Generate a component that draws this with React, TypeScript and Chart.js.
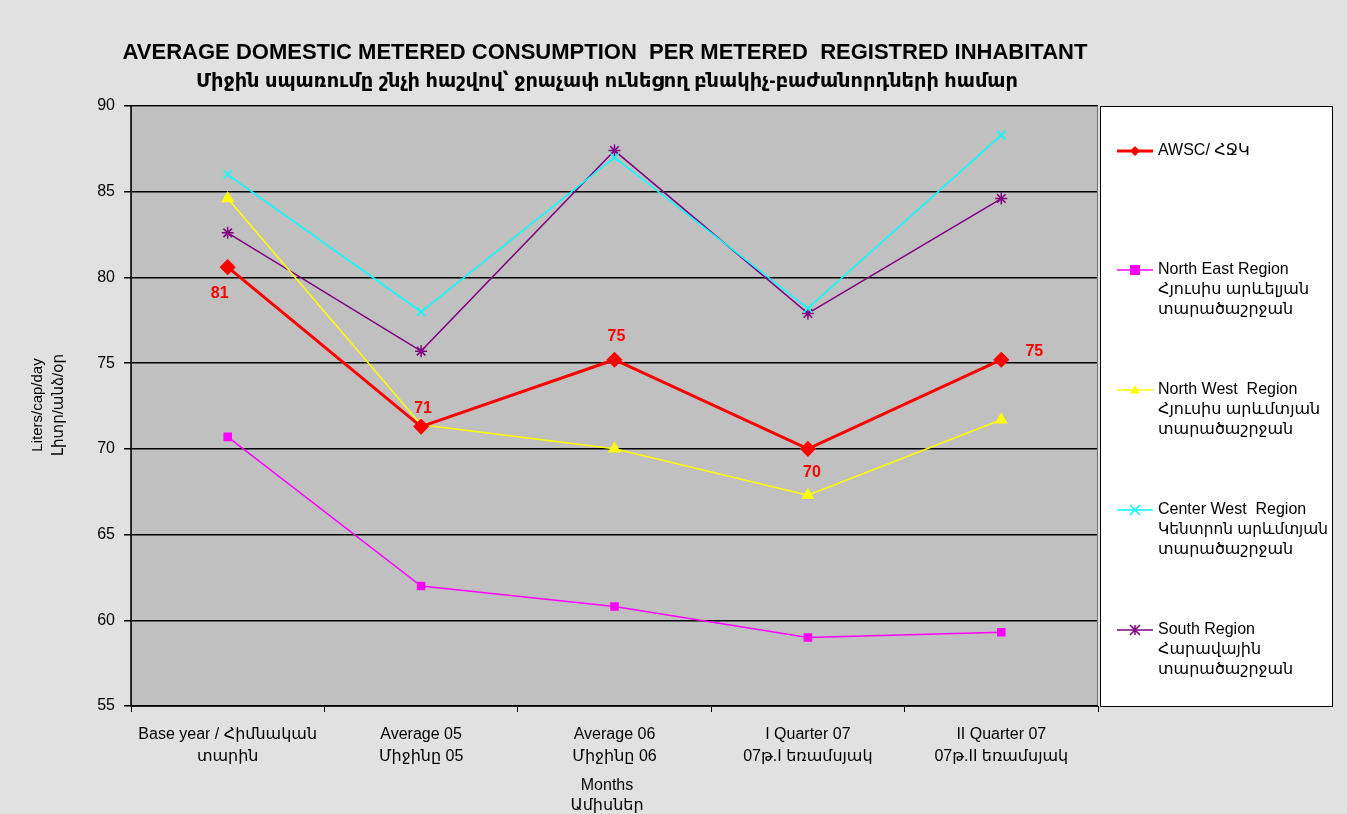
import React, { useEffect, useRef } from "react";
import { Chart, registerables } from "chart.js";

Chart.register(...registerables);

const categories: string[][] = [
  ["Base year / Հիմնական", "տարին"],
  ["Average 05", "Միջինը 05"],
  ["Average 06", "Միջինը 06"],
  ["I Quarter 07", "07թ.I եռամսյակ"],
  ["II Quarter 07", "07թ.II եռամսյակ"],
];
const awsc = [80.6, 71.3, 75.2, 70.0, 75.2];
const awscLabels = ["81", "71", "75", "70", "75"];
const northEast = [70.7, 62.0, 60.8, 59.0, 59.3];
const northWest = [84.6, 71.4, 70.0, 67.3, 71.7];
const centerWest = [86.0, 78.0, 87.0, 78.2, 88.3];
const south = [82.6, 75.7, 87.4, 77.9, 84.6];

const seriesNames: string[][] = [
  ["AWSC/ ՀՋԿ"],
  ["North East Region", "Հյուսիս արևելյան", "տարածաշրջան"],
  ["North West  Region", "Հյուսիս արևմտյան", "տարածաշրջան"],
  ["Center West  Region", "Կենտրոն արևմտյան", "տարածաշրջան"],
  ["South Region", "Հարավային", "տարածաշրջան"],
];
const titleLines = [
  "AVERAGE DOMESTIC METERED CONSUMPTION  PER METERED  REGISTRED INHABITANT",
  "Միջին սպառումը շնչի հաշվով՝ ջրաչափ ունեցող բնակիչ-բաժանորդների համար",
];
const yTitle = ["Liters/cap/day", "Լիտր/անձ/օր"];
const xTitle = ["Months", "Ամիսներ"];

const FONT = "'Liberation Sans', Arial, 'DejaVu Sans', sans-serif";

export default function App() {
  const ref = useRef<HTMLCanvasElement>(null);
  useEffect(() => {
    document.body.style.margin = "0";
    function drawPoint(ctx: any, style: string, r: number, x: number, y: number) {
      ctx.beginPath();
      if (style === "rectRot") {
        ctx.moveTo(x, y - r);
        ctx.lineTo(x + r, y);
        ctx.lineTo(x, y + r);
        ctx.lineTo(x - r, y);
        ctx.closePath();
        ctx.fill();
      } else if (style === "rect") {
        ctx.fillRect(x - r, y - r, 2 * r, 2 * r);
      } else if (style === "triangle") {
        ctx.moveTo(x, y - r);
        ctx.lineTo(x + r, y + r * 0.7);
        ctx.lineTo(x - r, y + r * 0.7);
        ctx.closePath();
        ctx.fill();
      } else if (style === "crossRot") {
        ctx.moveTo(x - r, y - r);
        ctx.lineTo(x + r, y + r);
        ctx.moveTo(x + r, y - r);
        ctx.lineTo(x - r, y + r);
        ctx.stroke();
      } else if (style === "star") {
        ctx.moveTo(x - r, y - r);
        ctx.lineTo(x + r, y + r);
        ctx.moveTo(x + r, y - r);
        ctx.lineTo(x - r, y + r);
        ctx.moveTo(x, y - r);
        ctx.lineTo(x, y + r);
        ctx.stroke();
      }
    }
    const decor = {
      id: "decor",
      beforeDraw(chart: any) {
        const ctx = chart.ctx;
        ctx.save();
        ctx.fillStyle = "#e1e1e1";
        ctx.fillRect(0, 0, chart.width, chart.height);
        const a = chart.chartArea;
        ctx.fillStyle = "#c0c0c0";
        ctx.fillRect(a.left, a.top, a.right - a.left, a.bottom - a.top);
        ctx.restore();
      },
      afterDraw(chart: any) {
        const ctx = chart.ctx;
        const a = chart.chartArea;
        ctx.save();
        ctx.strokeStyle = "#707070";
        ctx.lineWidth = 1;
        ctx.strokeRect(a.left + 0.5, a.top + 0.5, a.right - a.left - 1, a.bottom - a.top);
        ctx.strokeStyle = "#000";
        ctx.lineWidth = 1.5;
        ctx.beginPath();
        ctx.moveTo(a.left, a.top);
        ctx.lineTo(a.left, a.bottom);
        ctx.lineTo(a.right, a.bottom);
        ctx.stroke();
        // title
        ctx.fillStyle = "#000";
        ctx.textAlign = "center";
        ctx.textBaseline = "middle";
        ctx.font = `bold 22px ${FONT}`;
        ctx.fillText(titleLines[0], 605, 53, 975);
        ctx.font = `bold 20px ${FONT}`;
        ctx.fillText(titleLines[1], 607, 81, 822);
        // y title
        ctx.font = `15px ${FONT}`;
        ctx.save();
        ctx.translate(38, 405);
        ctx.rotate(-Math.PI / 2);
        ctx.fillText(yTitle[0], 0, 0);
        ctx.fillText(yTitle[1], 0, 21);
        ctx.restore();
        // x title
        ctx.font = `16px ${FONT}`;
        ctx.fillText(xTitle[0], 607, 786);
        ctx.fillText(xTitle[1], 607, 806);
        // data labels
        const meta = chart.getDatasetMeta(0);
        const offs = [[-8, 26], [2, -18], [2, -23], [4, 24], [33, -8]];
        ctx.fillStyle = "#ff0000";
        ctx.font = `bold 16px ${FONT}`;
        meta.data.forEach((p: any, i: number) => {
          ctx.fillText(awscLabels[i], p.x + offs[i][0], p.y + offs[i][1]);
        });
        // legend box
        const lx = 1100, ly = 106, lw = 232, lh = 600;
        ctx.fillStyle = "#ffffff";
        ctx.fillRect(lx, ly, lw, lh);
        ctx.strokeStyle = "#000";
        ctx.lineWidth = 1;
        ctx.strokeRect(lx + 0.5, ly + 0.5, lw, lh);
        const itemY = [151, 270, 390, 510, 630];
        chart.data.datasets.forEach((ds: any, i: number) => {
          const y = itemY[i];
          ctx.strokeStyle = ds.borderColor;
          ctx.lineWidth = ds.borderWidth;
          ctx.beginPath();
          ctx.moveTo(1117, y);
          ctx.lineTo(1153, y);
          ctx.stroke();
          ctx.save();
          ctx.lineWidth = 1.5;
          ctx.fillStyle = ds.pointBackgroundColor;
          ctx.strokeStyle = ds.pointBorderColor;
          drawPoint(ctx, ds.pointStyle, 5, 1135, y);
          ctx.restore();
          ctx.fillStyle = "#000";
          ctx.textAlign = "left";
          ctx.font = `16px ${FONT}`;
          seriesNames[i].forEach((t, k) => ctx.fillText(t, 1158, y + k * 20, 170));
        });
        ctx.restore();
      },
    };
    const mk = (data: number[], color: string, width: number, style: string, radius: number) => ({
      data,
      borderColor: color,
      backgroundColor: color,
      pointBackgroundColor: color,
      pointBorderColor: color,
      borderWidth: width,
      pointStyle: style,
      pointRadius: radius,
      pointBorderWidth: 1.5,
      tension: 0,
    });
    const chart = new Chart(ref.current!, {
      type: "line",
      data: {
        labels: categories as any,
        datasets: [
          mk(awsc, "#ff0000", 3, "rectRot", 7),
          mk(northEast, "#ff00ff", 1.5, "rect", 5),
          mk(northWest, "#ffff00", 1.5, "triangle", 6),
          mk(centerWest, "#00ffff", 1.5, "crossRot", 6),
          mk(south, "#800080", 1.5, "star", 6),
        ] as any,
      },
      options: {
        animation: false,
        responsive: false,
        layout: { padding: { top: 106, right: 249, left: 0, bottom: 0 } },
        plugins: { legend: { display: false }, tooltip: { enabled: false } },
        scales: {
          x: {
            offset: true,
            grid: { offset: true, drawOnChartArea: false, drawTicks: true, tickLength: 6, color: "#000" },
            border: { display: false },
            ticks: { color: "#000", font: { size: 16, family: FONT, lineHeight: 1.35 }, padding: 12, maxRotation: 0, autoSkip: false },
            afterFit(scale: any) { scale.height = 108; },
          },
          y: {
            min: 55,
            max: 90,
            grid: { color: "#000", lineWidth: 1.5, tickLength: 7, drawTicks: true },
            border: { display: false },
            ticks: { stepSize: 5, color: "#000", font: { size: 16, family: FONT }, padding: 9 },
            afterFit(scale: any) { scale.width = 131; },
          },
        },
      },
      plugins: [decor],
    });
    return () => chart.destroy();
  }, []);
  return (
    <div style={{ width: 1347, height: 814 }}>
      <canvas ref={ref} width={1347} height={814} />
    </div>
  );
}
